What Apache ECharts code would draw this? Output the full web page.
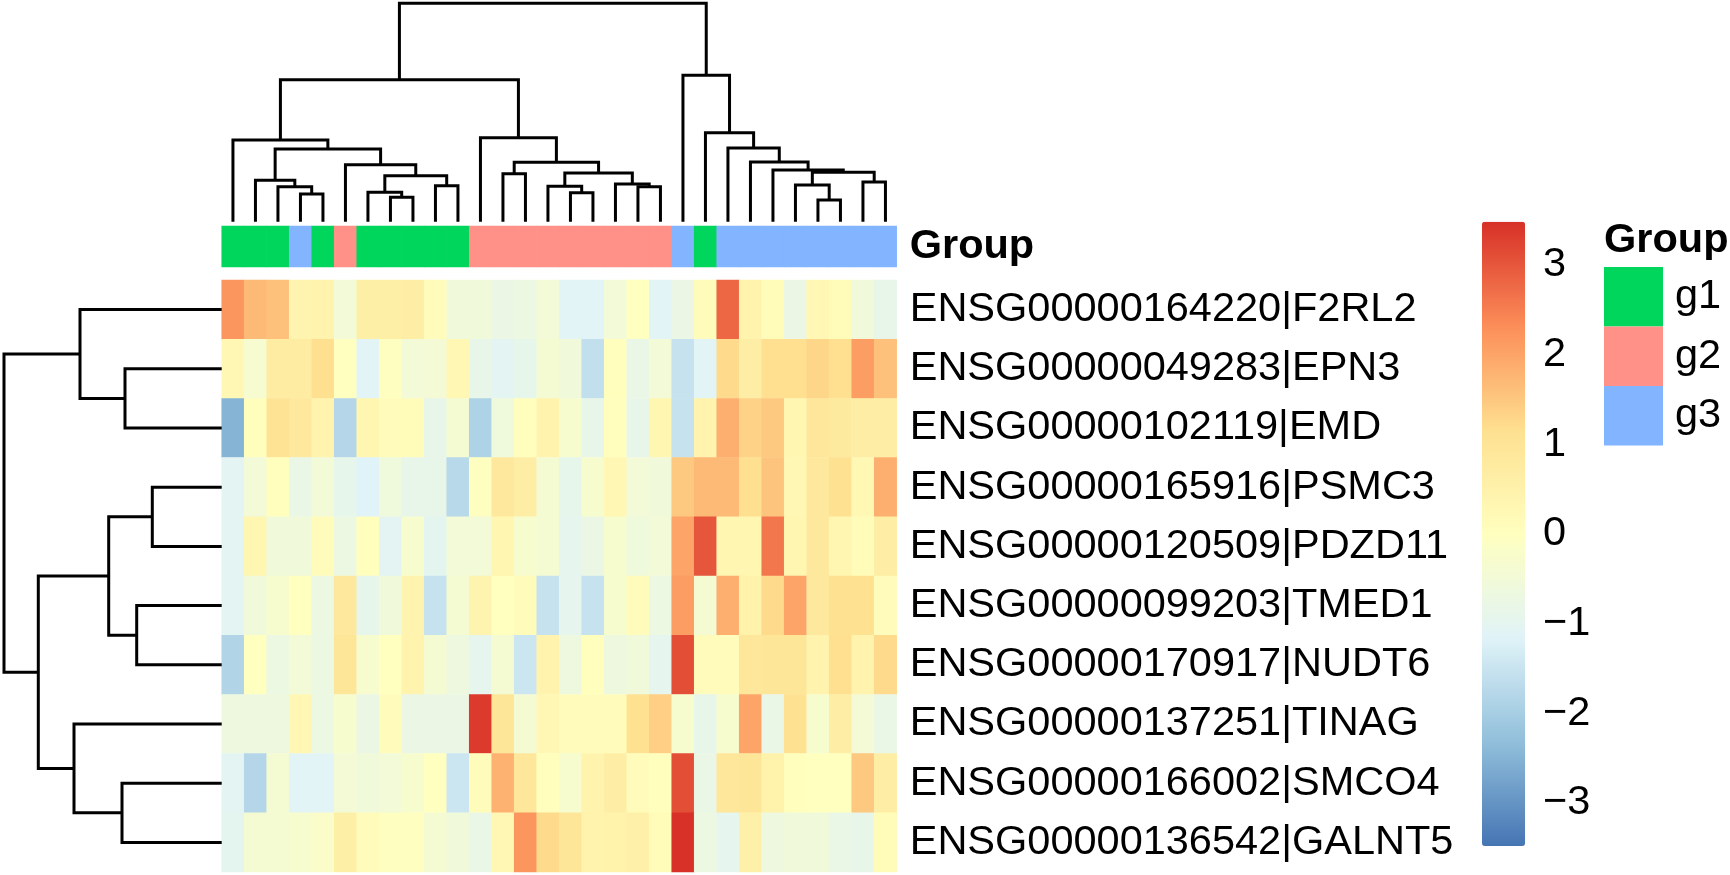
<!DOCTYPE html>
<html><head><meta charset="utf-8">
<script src="https://cdn.jsdelivr.net/npm/echarts@6/dist/echarts.min.js"></script>
<style>html,body{margin:0;padding:0;background:#fff;}#c{width:1730px;height:875px;}</style>
</head><body><div id="c"></div>
<script>
// ---------------- data ----------------
const genes = ['ENSG00000164220|F2RL2','ENSG00000049283|EPN3','ENSG00000102119|EMD','ENSG00000165916|PSMC3',
  'ENSG00000120509|PDZD11','ENSG00000099203|TMED1','ENSG00000170917|NUDT6','ENSG00000137251|TINAG',
  'ENSG00000166002|SMCO4','ENSG00000136542|GALNT5'];
const groupNames = ['g1','g2','g3'];
// group of each column (1=g1, 2=g2, 3=g3), in display order
const sampleGroups = [1,1,1,3,1,2,1,1,1,1,1,2,2,2,2,2,2,2,2,2,3,1,3,3,3,3,3,3,3,3];

const F2RL2  = [2.2,1.7,1.6,0.4,0.45,-0.5,0.6,0.6,0.65,0.1,-0.55,-0.55,-0.75,-0.7,-0.5,-1.1,-1.1,-0.5,0.0,-1.1,-0.75,0.1,2.8,0.45,0.15,-0.75,0.3,0.15,-0.55,-0.85];
const EPN3   = [0.3,-0.35,0.7,0.7,1.15,0.0,-1.1,-0.05,-0.5,-0.45,0.3,-0.85,-1.05,-0.9,-0.4,-0.55,-1.6,0.05,-0.8,-0.5,-1.55,-1.1,1.25,0.65,1.15,1.15,1.3,1.15,2.1,1.6];
const EMD    = [-2.5,0.05,1.05,0.85,0.45,-1.8,0.35,0.1,0.15,-0.85,-0.4,-1.9,-0.6,0.05,0.45,-0.3,-0.85,0.05,-0.85,0.35,-1.55,0.45,1.85,1.35,1.5,0.35,0.9,0.8,0.65,0.65];
const PSMC3  = [-1.05,-0.5,0.05,-0.8,-0.5,-0.9,-1.15,-0.6,-0.85,-0.85,-1.75,-0.05,0.85,0.65,-0.4,-0.9,-0.3,0.3,-0.5,-0.55,1.5,1.7,1.7,1.15,1.55,0.3,0.85,1.1,0.25,1.85];
const PDZD11 = [-1.05,0.35,-0.55,-0.55,0.1,-0.7,0.05,-1.05,-0.3,-1.0,-0.5,-0.5,0.35,-0.3,-0.4,-0.95,-0.75,-0.3,-0.6,-0.5,2.0,3.0,0.35,0.35,2.6,0.35,0.85,0.35,0.15,0.65];
const TMED1  = [-1.05,-0.55,-0.3,0.0,-0.7,0.85,-0.9,-0.55,0.4,-1.55,-0.4,0.4,0.0,0.1,-1.55,-0.95,-1.55,-0.3,0.1,-0.7,2.1,-0.4,1.85,0.5,1.25,2.0,0.85,1.1,1.1,0.1];
const NUDT6  = [-1.85,0.0,-0.7,-0.5,-0.7,0.95,-0.3,0.0,0.45,-0.4,-0.65,-0.95,-0.4,-1.45,0.45,-0.65,0.05,-0.65,-0.55,-0.95,3.1,0.1,0.1,0.9,0.95,0.95,0.45,1.15,0.45,1.25];
const TINAG  = [-0.65,-0.65,-0.65,0.3,-0.7,-0.3,-0.75,0.1,-0.75,-0.75,-0.75,3.35,0.95,-0.4,0.3,0.1,0.1,0.1,1.1,1.4,-0.3,-0.85,-0.3,2.0,-0.8,1.1,-0.3,0.65,-0.45,-0.8];
const SMCO4  = [-1.05,-1.8,-0.4,-1.1,-1.1,-0.45,-0.55,-0.5,-0.3,0.0,-1.45,0.1,1.8,0.9,0.05,-0.3,0.45,0.65,0.1,0.05,3.1,-0.8,0.9,0.95,0.5,0.05,0.0,0.0,1.5,0.65];
const GALNT5 = [-1.0,-0.4,-0.4,-0.3,-0.2,0.6,0.1,-0.05,-0.05,-0.4,-0.55,-0.8,0.3,2.2,1.25,0.95,0.45,0.5,0.55,0.15,3.45,-0.7,-0.95,0.55,-0.65,-0.55,-0.55,-0.8,-0.85,0.15];
const rows = [F2RL2, EPN3, EMD, PSMC3, PDZD11, TMED1, NUDT6, TINAG, SMCO4, GALNT5];

// column dendrogram (hclust-style merges: negative = leaf (1-based), positive = earlier merge), height
const colMerges = [
  [-4,-5,83],[-3,1,105],[-2,2,124],[-8,-9,73],[-7,4,88],[-10,-11,108],[5,6,138],[-6,7,171],[3,8,218],[-1,9,245],
  [-13,-14,144],[-16,-17,87],[-15,12,106],[-19,-20,105],[-18,14,113],[13,15,146],[11,16,178],[-12,17,252],[10,18,426],
  [-27,-28,65],[-26,20,110],[-29,-30,119],[21,22,148],[-25,23,155],[-24,24,179],[-23,25,221],[-22,26,267],[-21,27,439],
  [19,28,655]
];
// row dendrogram
const rowMerges = [
  [-4,-5,69.4],[-6,-7,85],[-2,-3,96.7],[-9,-10,99.7],[1,2,113],[-1,3,141.7],[-8,4,147.7],[5,7,183.4],[6,8,217.7]
];
const colorTicks = [-3,-2,-1,0,1,2,3];
const colorLimit = 3.48;

// ---------------- styling ----------------
const palette = ['#4575B4','#91BFDB','#E0F3F8','#FFFFBF','#FEE090','#FC8D59','#D73027'];
const groupColors = ['#00D65C','#FF9188','#82B4FF'];
const FONT = '"Liberation Sans", Arial, Helvetica, sans-serif';
const FS = 41.5;
const LW = 3;

function dendroSegments(merges) {
  const pos = [], hgt = [], segs = [];
  merges.forEach(([a, b, h], i) => {
    const get = k => k < 0 ? [-k - 1, 0] : [pos[k - 1], hgt[k - 1]];
    const [xa, ha] = get(a), [xb, hb] = get(b);
    pos[i] = (xa + xb) / 2; hgt[i] = h;
    segs.push([xa, ha, xb, hb, h]);
  });
  return segs;
}
const colSegs = dendroSegments(colMerges);
const rowSegs = dendroSegments(rowMerges);
const colMax = colMerges[colMerges.length - 1][2];
const rowMax = rowMerges[rowMerges.length - 1][2];

const heatData = [];
rows.forEach((r, ri) => r.forEach((v, ci) => heatData.push([ci, ri, v])));
const groupData = sampleGroups.map((g, ci) => [ci, 0, g]);
const colCats = sampleGroups.map((_, i) => 'S' + (i + 1));

const HL = 221.7, HW = 675, HT = 280, HH = 592;

const chart = echarts.init(document.getElementById('c'), null, {renderer: 'canvas'});
const hidden = {show: false};
chart.setOption({
  animation: false,
  backgroundColor: '#fff',
  textStyle: {fontFamily: FONT},
  title: {text: 'Group', left: 1604, top: 220, padding: 0,
    textStyle: {fontFamily: FONT, fontSize: FS, fontWeight: 'bold', color: '#000'}},
  grid: [
    {left: HL, top: HT, width: HW, height: HH},          // heatmap
    {left: HL, top: 226, width: HW, height: 41},         // group bar
    {left: HL, top: 3.3, width: HW, height: 218.4},      // column dendrogram
    {left: 4, top: HT, width: 217.7, height: HH},        // row dendrogram
    {left: 1482, top: 221.7, width: 43, height: 624.3}   // colour bar labels
  ],
  xAxis: [
    {gridIndex: 0, type: 'category', data: colCats, show: false},
    {gridIndex: 1, type: 'category', data: colCats, show: false},
    {gridIndex: 2, type: 'value', min: -0.5, max: 29.5, show: false},
    {gridIndex: 3, type: 'value', min: 0, max: rowMax, inverse: true, show: false},
    {gridIndex: 4, type: 'value', min: 0, max: 1, show: false}
  ],
  yAxis: [
    {gridIndex: 0, type: 'category', data: genes, inverse: true, position: 'right',
      axisLine: hidden, axisTick: hidden, splitLine: hidden,
      axisLabel: {margin: 13, fontSize: FS, color: '#000', fontFamily: FONT, padding: [3, 0, 0, 0]}},
    {gridIndex: 1, type: 'category', data: ['Group'], position: 'right',
      axisLine: hidden, axisTick: hidden, splitLine: hidden,
      axisLabel: {margin: 13, fontSize: FS, fontWeight: 'bold', color: '#000', fontFamily: FONT, padding: [8, 0, 0, 0]}},
    {gridIndex: 2, type: 'value', min: 0, max: colMax, show: false},
    {gridIndex: 3, type: 'value', min: -0.5, max: 9.5, inverse: true, show: false},
    {gridIndex: 4, type: 'value', min: -colorLimit, max: colorLimit, position: 'right',
      axisLine: hidden, axisTick: hidden, splitLine: hidden,
      axisLabel: {customValues: colorTicks, margin: 18, fontSize: FS, color: '#000', fontFamily: FONT,
        formatter: v => (v < 0 ? '\u2212' + Math.abs(v) : String(v))}}
  ],
  visualMap: [
    {type: 'continuous', seriesIndex: 0, dimension: 2, min: -colorLimit, max: colorLimit,
      inRange: {color: palette}, calculable: false, hoverLink: false,
      left: 1482, top: 221.7, itemWidth: 43, itemHeight: 624.3, padding: 0, text: null, showLabel: false},
    {type: 'piecewise', seriesIndex: 1, dimension: 2, orient: 'vertical', inverse: true,
      pieces: groupNames.map((g, i) => ({value: i + 1, label: g, color: groupColors[i]})),
      itemSymbol: 'rect', itemWidth: 59, itemHeight: 59.5, itemGap: 0, textGap: 12,
      left: 1604, top: 267, padding: 0, selectedMode: false, hoverLink: false, align: 'left',
      textStyle: {fontSize: FS, color: '#000', fontFamily: FONT}}
  ],
  series: [
    {type: 'heatmap', xAxisIndex: 0, yAxisIndex: 0, data: heatData, emphasis: {disabled: true}},
    {type: 'heatmap', xAxisIndex: 1, yAxisIndex: 1, data: groupData, emphasis: {disabled: true}},
    {type: 'custom', xAxisIndex: 2, yAxisIndex: 2, data: colSegs, encode: {x: [0, 2], y: [1, 3, 4]},
      silent: true,
      renderItem: (p, api) => {
        const xa = api.value(0), ha = api.value(1), xb = api.value(2), hb = api.value(3), h = api.value(4);
        return {type: 'polyline', shape: {points: [api.coord([xa, ha]), api.coord([xa, h]), api.coord([xb, h]), api.coord([xb, hb])]},
          style: {stroke: '#000', lineWidth: LW, fill: null}};
      }},
    {type: 'custom', xAxisIndex: 3, yAxisIndex: 3, data: rowSegs, encode: {x: [1, 3, 4], y: [0, 2]},
      silent: true,
      renderItem: (p, api) => {
        const ya = api.value(0), ha = api.value(1), yb = api.value(2), hb = api.value(3), h = api.value(4);
        return {type: 'polyline', shape: {points: [api.coord([ha, ya]), api.coord([h, ya]), api.coord([h, yb]), api.coord([hb, yb])]},
          style: {stroke: '#000', lineWidth: LW, fill: null}};
      }},
    {type: 'line', xAxisIndex: 4, yAxisIndex: 4, data: [], silent: true}
  ]
});
</script></body></html>
